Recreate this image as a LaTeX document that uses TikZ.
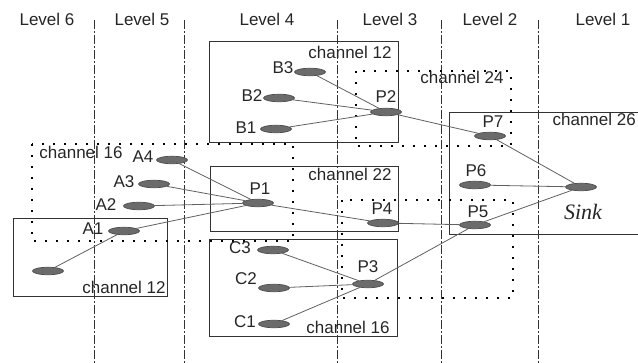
\documentclass[tikz,border=0pt]{standalone}
\usepackage{fontspec}
\setmainfont{Liberation Sans}
\newfontfamily\sinkfont{Liberation Serif}
\usetikzlibrary{shapes.geometric}
\begin{document}
\begin{tikzpicture}[x=1pt,y=-1pt,
  lbl/.style={font=\fontsize{17}{19}\selectfont, text=black!85, inner sep=0pt},
  sensor/.style={ellipse, draw=black!70, fill=black!58, minimum width=31pt, minimum height=7.5pt, inner sep=0pt, line width=0.7pt},
  link/.style={draw=black!62, line width=0.8pt},
  chbox/.style={draw=black!80, line width=1pt},
  dotbox/.style={draw=black, line width=2pt, dash pattern=on 2pt off 9pt},
  divider/.style={draw=black!80, line width=0.9pt, dash pattern=on 9pt off 2pt on 2pt off 2pt}]
\useasboundingbox (0,0) rectangle (638,363);
\clip (0,0) rectangle (638,363);
\fill[white] (0,0) rectangle (638,363);

% level labels
\node[lbl] (l6) at (47,19) {Level 6};
\node[lbl] (l5) at (142,19) {Level 5};
\node[lbl] (l4) at (267,19) {Level 4};
\node[lbl] (l3) at (390,19) {Level 3};
\node[lbl] (l2) at (490,19) {Level 2};
\node[lbl] (l1) at (603,19) {Level 1};

% level dividers
\foreach \x in {94,184,337,441,538} {
  \draw[divider] (\x,20) -- (\x,363);
}

% solid channel boxes
\draw[chbox] (209,42) rectangle (398,143);
\draw[chbox] (210,167) rectangle (398,232);
\draw[chbox] (209,240) rectangle (397,337);
\draw[chbox] (13,219) rectangle (167,297);
\draw[chbox] (449,113) rectangle (660,235);

% dotted channel boxes
\draw[dotbox] (32,144) rectangle (293,241);
\draw[dotbox] (356,71) rectangle (511,146);
\draw[dotbox] (342,200) rectangle (513,298);

% channel labels
\node[lbl] (ch12a) at (350,52) {channel 12};
\node[lbl] (ch24) at (462,77) {channel 24};
\node[lbl] (ch16a) at (81,152) {channel 16};
\node[lbl] (ch22) at (350,174) {channel 22};
\node[lbl, anchor=east] (ch26) at (636,119) {channel 26};
\node[lbl] (ch12b) at (124,287) {channel 12};
\node[lbl] (ch16b) at (348,327) {channel 16};

% sensor nodes
\node[sensor] (B3) at (310,72) {};
\node[sensor] (B2) at (279,98) {};
\node[sensor] (B1) at (276,129) {};
\node[sensor] (A4) at (172,160) {};
\node[sensor] (A3) at (154,184) {};
\node[sensor] (A2) at (139,206) {};
\node[sensor] (A1) at (124,231) {};
\node[sensor] (A0) at (48,271) {};
\node[sensor] (P1) at (258,203) {};
\node[sensor] (C3) at (273,250) {};
\node[sensor] (C2) at (274,288) {};
\node[sensor] (C1) at (274,324) {};
\node[sensor] (P3) at (368,284) {};
\node[sensor] (P4) at (383,223) {};
\node[sensor] (P5) at (475,225) {};
\node[sensor] (P6) at (475,185) {};
\node[sensor] (P7) at (490,136) {};
\node[sensor] (P2) at (386,112) {};
\node[sensor] (Sink) at (581,187) {};

% node labels
\node[lbl] (tB3) at (283,68) {B3};
\node[lbl] (tB2) at (252,96) {B2};
\node[lbl] (tB1) at (246,128) {B1};
\node[lbl] (tA4) at (143,157) {A4};
\node[lbl] (tA3) at (124,182) {A3};
\node[lbl] (tA2) at (106,205) {A2};
\node[lbl] (tA1) at (93,229) {A1};
\node[lbl] (tP1) at (260,189) {P1};
\node[lbl] (tC3) at (240,248) {C3};
\node[lbl] (tC2) at (246,279) {C2};
\node[lbl] (tC1) at (245,322) {C1};
\node[lbl] (tP3) at (368,267) {P3};
\node[lbl] (tP4) at (382,209) {P4};
\node[lbl] (tP5) at (478,212) {P5};
\node[lbl] (tP6) at (476,171) {P6};
\node[lbl] (tP7) at (493,122) {P7};
\node[lbl] (tP2) at (386,97) {P2};
\node[inner sep=0pt, text=black!85, font=\sinkfont\itshape\fontsize{22}{24}\selectfont] (tSink) at (583,212) {Sink};

% links
\draw[link] (B3) -- (P2);
\draw[link] (B2) -- (P2);
\draw[link] (B1) -- (P2);
\draw[link] (P2) -- (P7);
\draw[link] (P7) -- (Sink);
\draw[link] (P6) -- (Sink);
\draw[link] (P5) -- (Sink);
\draw[link] (P4) -- (P5);
\draw[link] (P1) -- (P4);
\draw[link] (A4) -- (P1);
\draw[link] (A3) -- (P1);
\draw[link] (A2) -- (P1);
\draw[link] (A1) -- (P1);
\draw[link] (A0) -- (A1);
\draw[link] (C3) -- (P3);
\draw[link] (C2) -- (P3);
\draw[link] (C1) -- (P3);
\draw[link] (P3) -- (P5);
\end{tikzpicture}
\end{document}
